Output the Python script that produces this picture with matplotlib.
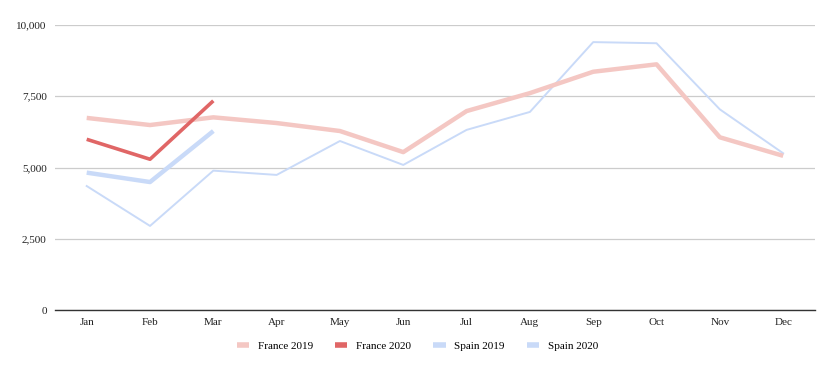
import matplotlib
matplotlib.use("Agg")
import matplotlib.pyplot as plt
from matplotlib.lines import Line2D
from matplotlib.ticker import FuncFormatter

months = ["Jan", "Feb", "Mar", "Apr", "May", "Jun",
          "Jul", "Aug", "Sep", "Oct", "Nov", "Dec"]

france_2019 = [6740, 6490, 6760, 6560, 6280, 5540, 6980, 7610, 8360, 8620, 6060, 5410]
france_2020 = [5990, 5290, 7340]
spain_2019 = [4350, 2950, 4890, 4740, 5930, 5090, 6320, 6950, 9400, 9360, 7040, 5500]
spain_2020 = [4820, 4490, 6280]

series_names = ["France 2019", "France 2020", "Spain 2019", "Spain 2020"]
series_colors = ["#f4c7c3", "#e06666", "#c9daf8", "#c9daf8"]

plt.rcParams["font.family"] = ["Liberation Serif", "DejaVu Serif"]

fig = plt.figure(figsize=(8.34, 3.71), dpi=100)
ax = fig.add_axes([0.066, 0.1644, 0.911, 0.7682])

x = list(range(len(months)))

ax.plot(x, france_2019, color=series_colors[0], lw=3.2,
        solid_capstyle="butt", zorder=3)
ax.plot(x[:len(france_2020)], france_2020, color=series_colors[1], lw=2.6,
        solid_capstyle="butt", zorder=5)
ax.plot(x, spain_2019, color=series_colors[2], lw=1.4, zorder=2)
ax.plot(x[:len(spain_2020)], spain_2020, color=series_colors[3], lw=3.2,
        solid_capstyle="butt", zorder=4)

ax.set_xlim(-0.5, 11.5)
ax.set_ylim(0, 10000)
ax.set_xticks(x)
ax.set_xticklabels(months)
ax.set_yticks([0, 2500, 5000, 7500, 10000])
ax.yaxis.set_major_formatter(FuncFormatter(lambda v, p: f"{int(v):,}"))

ax.grid(axis="y", color="#cccccc", lw=0.9)
ax.set_axisbelow(True)
for side in ["top", "right", "left"]:
    ax.spines[side].set_visible(False)
ax.spines["bottom"].set_color("#333333")
ax.spines["bottom"].set_linewidth(1.0)
ax.spines["bottom"].set_zorder(6)
ax.tick_params(axis="both", length=0, labelsize=8, colors="#222222")
ax.tick_params(axis="x", pad=6)
ax.tick_params(axis="y", pad=6)

handles = [Line2D([], [], color=c, lw=4, solid_capstyle="butt") for c in series_colors]
ax.legend(handles, series_names, loc="upper center",
          bbox_to_anchor=(0.477, -0.075), ncol=4, frameon=False, fontsize=8,
          handlelength=1.1, columnspacing=2.0, handletextpad=0.8)

fig.savefig("out.png", dpi=100)
